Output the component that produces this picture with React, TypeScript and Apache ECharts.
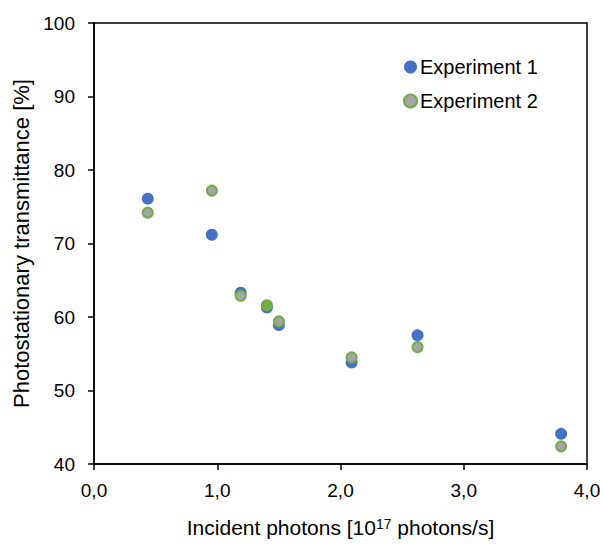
import React, { useEffect, useRef } from "react";
import * as echarts from "echarts";

// Incident photon flux [10^17 photons/s] and photostationary transmittance [%]
const exp1X = [0.436, 0.956, 1.19, 1.403, 1.5, 2.09, 2.625, 3.79];
const exp1Y = [76.1, 71.2, 63.3, 61.3, 58.9, 53.8, 57.5, 44.1];
const exp2X = [0.436, 0.956, 1.19, 1.403, 1.5, 2.09, 2.625, 3.79];
const exp2Y = [74.2, 77.2, 62.9, 61.6, 59.4, 54.5, 55.9, 42.4];
// the one Experiment 2 point drawn with a solid fill
const exp2SolidIndex = 3;

const xTicks = [0, 1, 2, 3, 4];
const yTicks = [40, 50, 60, 70, 80, 90, 100];

const BLUE = "#4472C4";
const GREEN = "#70AD47";
const GRAY = "#A5A5A5";
const FONT = "Liberation Sans, Arial, sans-serif";

export default function App() {
  const ref = useRef<HTMLDivElement>(null);

  useEffect(() => {
    if (!ref.current) return;
    const chart = echarts.init(ref.current, null, { renderer: "svg" });

    const s1 = exp1X.map((x, i) => [x, exp1Y[i]]);
    const s2 = exp2X.map((x, i) =>
      i === exp2SolidIndex
        ? { value: [x, exp2Y[i]], itemStyle: { color: GREEN } }
        : [x, exp2Y[i]]
    );

    chart.setOption({
      animation: false,
      backgroundColor: "#fff",
      textStyle: { fontFamily: FONT },
      grid: {
        left: 94,
        right: 16,
        top: 23,
        bottom: 81,
        containLabel: false,
        outerBoundsMode: "none",
        show: true,
        borderColor: "#000",
        borderWidth: 1.5,
        backgroundColor: "transparent",
      },
      legend: {
        left: 403,
        top: 57,
        padding: 0,
        orient: "vertical",
        itemWidth: 13,
        itemHeight: 13,
        itemGap: 14,
        icon: "circle",
        textStyle: { fontSize: 20, color: "#000", fontFamily: FONT, padding: [0, 0, 0, -2] },
        data: ["Experiment 1", "Experiment 2"],
      },
      xAxis: {
        type: "value",
        min: xTicks[0],
        max: xTicks[xTicks.length - 1],
        interval: 1,
        name: "Incident photons [10{sup|17} photons/s]",
        nameLocation: "middle",
        nameGap: 53,
        nameTextStyle: {
          fontSize: 21,
          lineHeight: 21,
          color: "#000",
          fontFamily: FONT,
          rich: {
            sup: { fontSize: 14, lineHeight: 21, verticalAlign: "top", fontFamily: FONT, color: "#000" },
          },
        },
        axisLine: { show: true, lineStyle: { color: "#000", width: 1.5 } },
        axisTick: { show: true, inside: false, length: 6, lineStyle: { color: "#000", width: 1.5 } },
        axisLabel: {
          fontSize: 19,
          color: "#000",
          margin: 17,
          formatter: (v: number) => v.toFixed(1).replace(".", ","),
        },
        splitLine: { show: false },
      },
      yAxis: {
        type: "value",
        min: yTicks[0],
        max: yTicks[yTicks.length - 1],
        interval: 10,
        name: "Photostationary transmittance [%]",
        nameLocation: "middle",
        nameGap: 60,
        nameTextStyle: { fontSize: 22, color: "#000", fontFamily: FONT },
        axisLine: { show: true, lineStyle: { color: "#000", width: 1.5 } },
        axisTick: { show: true, inside: false, length: 6, lineStyle: { color: "#000", width: 1.5 } },
        axisLabel: { fontSize: 19, color: "#000", margin: 19 },
        splitLine: { show: false },
      },
      series: [
        {
          name: "Experiment 1",
          type: "scatter",
          symbol: "circle",
          symbolSize: 12,
          itemStyle: { color: BLUE, opacity: 1 },
          data: s1,
        },
        {
          name: "Experiment 2",
          type: "scatter",
          symbol: "circle",
          symbolSize: 10,
          itemStyle: { color: GRAY, borderColor: GREEN, borderWidth: 2, opacity: 1 },
          data: s2,
        },
      ],
    });

    return () => chart.dispose();
  }, []);

  return <div ref={ref} style={{ width: 603, height: 545, position: "absolute", left: 0, top: 0 }} />;
}
